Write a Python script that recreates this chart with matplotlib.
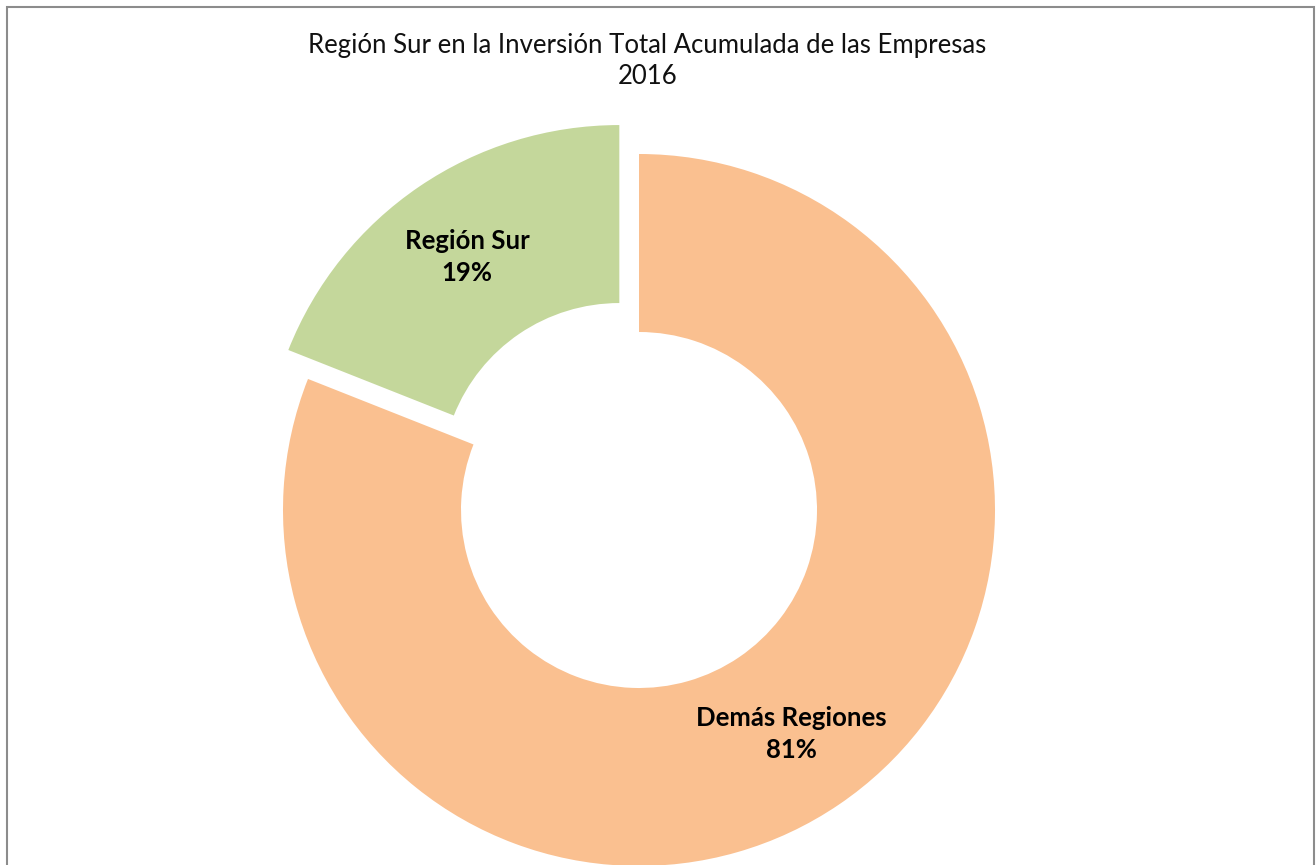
import matplotlib.pyplot as plt
from matplotlib.patches import Rectangle

plt.rcParams['font.family'] = ['Lato', 'DejaVu Sans']

regions = ['Demás Regiones', 'Región Sur']
shares = [81, 19]
colors = ['#FAC090', '#C4D79B']
explode = [0, 35]
title = 'Región Sur en la Inversión Total Acumulada de las Empresas\n2016'

W, H = 1316, 865
fig = plt.figure(figsize=(W / 100, H / 100), dpi=100)
ax = fig.add_axes([0, 0, 1, 1])

labels = [f'{r}\n{s}%' for r, s in zip(regions, shares)]
wedges, texts = ax.pie(shares, labels=labels, colors=colors, explode=explode,
                       startangle=90, counterclock=False, radius=356,
                       center=(639, H - 510), labeldistance=0.76,
                       wedgeprops=dict(width=178, linewidth=0),
                       textprops=dict(fontsize=18.5, fontweight='bold', color='black'),
                       frame=True)
ax.set_xlim(0, W)
ax.set_ylim(0, H)
ax.set_aspect('equal')
ax.axis('off')
for t in texts:
    t.set_ha('center')
    t.set_va('center')
    t.set_multialignment('center')
    t.set_linespacing(1.42)

fig.text(0.492, 1 - 61 / H, title, ha='center', va='center', fontsize=18.5,
         linespacing=1.3, color='#111111')

fig.patches.append(Rectangle((7 / W, -0.01), (W - 9) / W, 1 - 7 / H + 0.01,
                             transform=fig.transFigure, fill=False,
                             edgecolor='#8c8c8c', linewidth=1.5))

fig.savefig('out.png', dpi=100)
